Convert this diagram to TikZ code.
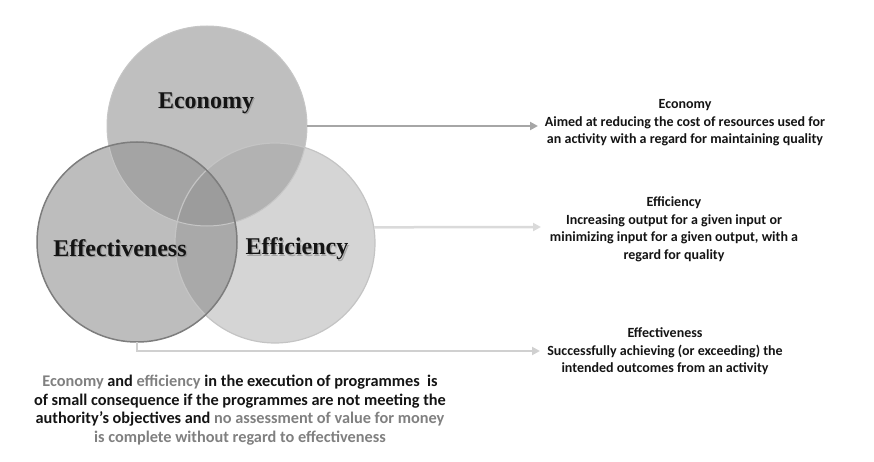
\documentclass[tikz,border=0pt]{standalone}
\usepackage{fontspec}
\setmainfont{Carlito}
\newfontfamily\ringfont{Liberation Serif}
\usepackage{tikz}
\usetikzlibrary{arrows.meta, positioning}
\definecolor{mydark}{RGB}{20,20,20}
\definecolor{ecofill}{RGB}{191,191,191}
\definecolor{ecodraw}{RGB}{198,198,198}
\definecolor{effofill}{RGB}{189,189,189}
\definecolor{effodraw}{RGB}{125,125,125}
\definecolor{efcfill}{RGB}{213,213,213}
\definecolor{efcdraw}{RGB}{196,196,196}
\definecolor{ecoeffo}{RGB}{164,164,164}
\definecolor{ecoefc}{RGB}{178,178,178}
\definecolor{effoefc}{RGB}{169,169,169}
\definecolor{allthree}{RGB}{156,156,156}
\definecolor{shadowgray}{RGB}{120,120,120}
\definecolor{txtgray}{RGB}{128,128,128}
\definecolor{arrdark}{RGB}{166,166,166}
\definecolor{arrlight}{RGB}{218,218,218}
\definecolor{arrmid}{RGB}{208,208,208}
\tikzset{
  ring/.style={circle, minimum size=200pt, inner sep=0pt},
  ringlabel/.style={font=\ringfont\bfseries\fontsize{24}{27}\selectfont, text=mydark},
  ringshadow/.style={ringlabel, text=shadowgray, opacity=0.5},
  desc/.style={align=center, font=\bfseries\fontsize{14}{17.5}\selectfont, text=mydark},
  note/.style={align=center, font=\bfseries\fontsize{16.3}{18.7}\selectfont, text=mydark},
  link/.style={-{Triangle[length=8pt,width=8pt]}, line width=2.5pt}
}
\newcommand{\soft}[1]{\textcolor{txtgray}{#1}}

\begin{document}
\begin{tikzpicture}[x=1pt, y=-1pt]
  \useasboundingbox (0,0) rectangle (874,462);

  % Circles
  \node[ring, fill=ecofill] (eco) at (207,126) {};
  \node[ring, fill=efcfill] (efc) at (275,243) {};
  \node[ring, fill=effofill] (effo) at (137,242) {};

  % Overlaps
  \begin{scope}
    \clip (eco.center) circle (100pt);
    \fill[ecoefc] (efc.center) circle (100pt);
    \fill[ecoeffo] (effo.center) circle (100pt);
    \clip (efc.center) circle (100pt);
    \fill[allthree] (effo.center) circle (100pt);
  \end{scope}
  \begin{scope}
    \clip (efc.center) circle (100pt);
    \clip (effo.center) circle (100pt);
    \fill[effoefc] (0,0) rectangle (874,462);
    \fill[allthree] (eco.center) circle (100pt);
  \end{scope}

  % Borders
  \draw[ecodraw, line width=1pt] (eco.center) circle (100pt);
  \draw[efcdraw, line width=1.2pt] (efc.center) circle (100pt);
  \draw[effodraw, line width=1.5pt] (effo.center) circle (100pt);

  % Circle labels
  \node[ringshadow] (ecoshadow) at (207.3,104.5) {Economy};
  \node[ringlabel] (ecolabel) at (206,103) {Economy};
  \node[ringshadow] (effoshadow) at (121.3,249.5) {Effectiveness};
  \node[ringlabel] (effolabel) at (120,248) {Effectiveness};
  \node[ringshadow] (efcshadow) at (298.3,250.5) {Efficiency};
  \node[ringlabel] (efclabel) at (297,249) {Efficiency};

  % Descriptions
  \node[desc] (ecodesc) at (685,123) {Economy\\Aimed at reducing the cost of resources used for\\an activity with a regard for maintaining quality};
  \node[desc] (efcdesc) at (674,229.5) {Efficiency\\Increasing output for a given input or\\minimizing input for a given output, with a\\regard for quality};
  \node[desc] (effodesc) at (665,351.5) {Effectiveness\\Successfully achieving (or exceeding) the\\intended outcomes from an activity};

  % Arrows
  \coordinate (ecoend) at (538,126);
  \coordinate (efcend) at (541,227);
  \coordinate (effoend) at (540,351);
  \draw[link, arrdark] (eco.east) -- (ecoend);
  \draw[link, arrlight] (efc.9.2) -- (efcend);
  \draw[link, arrmid, line width=2pt] (effo.south) |- (effoend);

  % Note
  \node[note] (summary) at (240,410) {\soft{Economy} and \soft{efficiency} in the execution of programmes\ \ is\\of small consequence if the programmes are not meeting the\\authority’s objectives and \soft{no assessment of value for money}\\\soft{is complete without regard to effectiveness}};
\end{tikzpicture}
\end{document}
